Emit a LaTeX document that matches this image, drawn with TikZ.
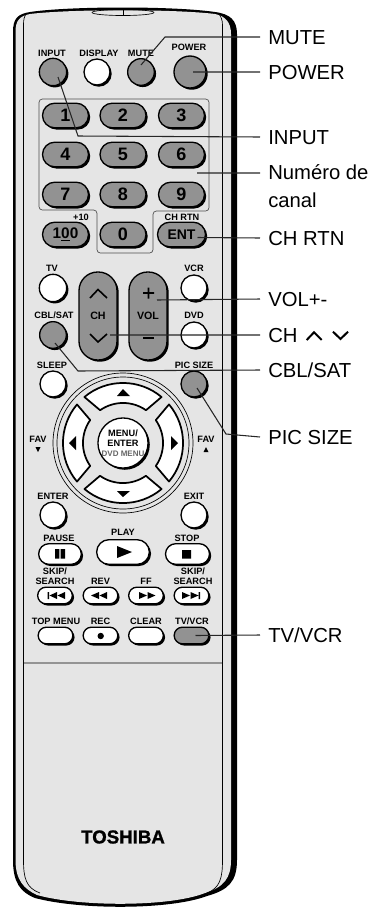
\documentclass[tikz,border=0pt]{standalone}
\usepackage{fontspec}
\setmainfont{Liberation Sans}
\usepackage{xcolor}
\usetikzlibrary{shapes.misc,shadows}
\definecolor{bodygray}{HTML}{E5E5E5}
\definecolor{keygray}{HTML}{929292}
\tikzset{
	key/.style={draw=black,line width=1pt,inner sep=0pt,general shadow={shadow xshift=1.3pt,shadow yshift=-1.3pt,fill=black}},
	graykey/.style={key,fill=keygray},
	whitekey/.style={key,fill=white},
	numkey/.style={graykey,rounded rectangle,minimum width=34.5pt,minimum height=18.5pt,font=\bfseries\fontsize{13.5}{14}\selectfont},
	longkey/.style={graykey,rectangle,rounded corners=14pt,minimum width=28.5pt,minimum height=66pt,font=\bfseries\fontsize{8}{9}\selectfont},
	roundkey/.style={circle,minimum size=#1},
	pillkey/.style={rounded rectangle,minimum height=12.5pt,minimum width=26pt},
	keylabel/.style={inner sep=0pt,align=center,font=\bfseries\fontsize{6.9}{7.6}\selectfont},
	calltext/.style={anchor=west,inner ysep=0pt,inner xsep=6pt,font=\fontsize{15.2}{21}\selectfont},
	callout/.style={calltext,text height=10.9pt,text depth=0pt},
	leader/.style={draw=black!85,line width=0.8pt},
	sector/.style={draw=black,fill=white,line width=1.3pt,line join=round},
}
\begin{document}
\begin{tikzpicture}[x=0.75pt,y=-0.75pt]
\useasboundingbox (0,0) rectangle (381,908);
% case
\fill[black] (13,32) .. controls (13,18) and (18,14) .. (30,12) .. controls (70,6) and (175,6) .. (215,12)
	.. controls (230,14) and (237,20) .. (237,34) -- (237,860) .. controls (237,882) and (228,890) .. (207,896)
	.. controls (170,910) and (80,910) .. (35,898) .. controls (20,892) and (13,882) .. (13,860) -- cycle;
\fill[bodygray] (15.5,32) .. controls (15.5,20) and (20,16) .. (30,14) .. controls (70,9) and (175,9) .. (215,14)
	.. controls (225,16) and (231,22) .. (231,34) -- (231,860) .. controls (231,878) and (224,887) .. (205,893)
	.. controls (170,907) and (80,907) .. (37,895) .. controls (24,889) and (15.5,880) .. (15.5,860) -- cycle;
\draw[line width=0.5pt] (27,13) .. controls (24,16) and (23.5,20) .. (23.5,25) -- (23.5,860)
	.. controls (23.5,878) and (26,888) .. (40,893)
	(218,13) .. controls (221,16) and (222.5,20) .. (222.5,25) -- (222.5,860)
	.. controls (222.5,878) and (220,888) .. (207,893)
	(23.5,663) -- (222.5,663);
\draw[line width=0.5pt] (123,12.5) ellipse [x radius=31,y radius=3];
\draw[line width=0.6pt] (123,8) -- (123,15);
% number panel
\draw[black!70,line width=0.5pt,rounded corners=2.5pt] (39,99) -- (209,99) -- (209,211) -- (153,211)
	-- (153,253) -- (97,253) -- (97,210) -- (39,210) -- cycle;

% top row
\node[keylabel] (inputlabel) at (52,53) {INPUT};
\node[keylabel] (displaylabel) at (99,53) {DISPLAY};
\node[keylabel] (mutelabel) at (141,53) {MUTE};
\node[keylabel] (powerlabel) at (189,47) {POWER};
\node[graykey,roundkey=20.5pt] (input) at (53,72) {};
\node[whitekey,roundkey=19.5pt] (display) at (97,72) {};
\node[graykey,roundkey=20pt] (mute) at (141,72) {};
\node[graykey,roundkey=24pt] (power) at (190,72) {};

% numbers
\node[numkey] (n1) at (65.5,115.5) {1};
\node[numkey] (n2) at (123,115.5) {2};
\node[numkey] (n3) at (181.5,115.5) {3};
\node[numkey] (n4) at (65.5,154.5) {4};
\node[numkey] (n5) at (123,154.5) {5};
\node[numkey] (n6) at (181.5,154.5) {6};
\node[numkey] (n7) at (65.5,194.5) {7};
\node[numkey] (n8) at (123,194.5) {8};
\node[numkey] (n9) at (181.5,194.5) {9};
\node[numkey,font=\bfseries\fontsize{11.5}{12}\selectfont] (n100) at (65.5,234.5) {1\underline{0}0};
\node[numkey] (n0) at (123,234.5) {0};
\node[numkey,minimum width=36pt,font=\bfseries\fontsize{10.5}{11}\selectfont] (ent) at (181.5,234.5) {ENT};
\node[keylabel] (pluslabel) at (81,217) {+10};
\node[keylabel] (chrtnlabel) at (182,217) {CH RTN};

% channel and volume
\node[keylabel] (tvlabel) at (52,268) {TV};
\node[keylabel] (vcrlabel) at (194,268) {VCR};
\node[keylabel] (cbllabel) at (54,315) {CBL/SAT};
\node[keylabel] (dvdlabel) at (194,315) {DVD};
\node[keylabel] (sleeplabel) at (52,365) {SLEEP};
\node[keylabel] (piclabel) at (194,365) {PIC SIZE};
\node[whitekey,roundkey=20.5pt] (tv) at (53,288) {};
\node[whitekey,roundkey=19.5pt] (vcr) at (194,288) {};
\node[graykey,roundkey=20pt] (cbl) at (53,335) {};
\node[whitekey,roundkey=19.5pt] (dvd) at (194,335) {};
\node[whitekey,roundkey=19.5pt] (sleep) at (53,384) {};
\node[graykey,roundkey=19.5pt] (pic) at (194,384) {};
\node[longkey] (ch) at (98,316) {CH};
\node[longkey] (vol) at (148,316) {VOL};
\draw[line width=1.2pt]
	(90,298) -- (98,289.5) -- (107,298)
	(90,334) -- (98,342) -- (107,334)
	(143,293) -- (154,293)
	(148.5,287.5) -- (148.5,298.5);
\draw[line width=1.8pt] (143,338) -- (154,338);

% navigation ring
\draw[line width=0.5pt] (123,443) circle [radius=70] (123,443) circle [radius=66];
\draw[sector] (84.4,397) arc [start angle=230,end angle=310,radius=60] -- (146,410.2) arc [start angle=305,end angle=235,radius=40] -- cycle;
\draw[sector] (169,404.4) arc [start angle=-40,end angle=40,radius=60] -- (155.8,466) arc [start angle=35,end angle=-35,radius=40] -- cycle;
\draw[sector] (161.6,489) arc [start angle=50,end angle=130,radius=60] -- (100,475.8) arc [start angle=125,end angle=55,radius=40] -- cycle;
\draw[sector] (77,481.6) arc [start angle=140,end angle=220,radius=60] -- (90.2,420) arc [start angle=215,end angle=145,radius=40] -- cycle;
\node[whitekey,roundkey=37.5pt,keylabel,inner sep=0pt] (menu) at (123,443) {MENU/\\ENTER\\[-0.5pt]{\color{black!60}\fontsize{6}{7}\selectfont DVD MENU}};
\fill
	(117,396) -- (123,389) -- (130,396) -- cycle
	(117,491) -- (123,497) -- (130,491) -- cycle
	(69,443) -- (76,436) -- (76,450) -- cycle
	(178,443) -- (171,436) -- (171,450) -- cycle
	(35.5,447) -- (40.5,447) -- (38,452) -- cycle
	(203.5,452) -- (208.5,452) -- (206,447) -- cycle;
\node[keylabel] (favleft) at (38,439) {FAV};
\node[keylabel] (favright) at (206,439) {FAV};

% lower keys
\node[keylabel] (enterlabel) at (53,496) {ENTER};
\node[keylabel] (exitlabel) at (194,496) {EXIT};
\node[whitekey,roundkey=19.5pt] (enter) at (53,515) {};
\node[whitekey,roundkey=19.5pt] (exit) at (194,515) {};
\node[keylabel] (pauselabel) at (59,538.5) {PAUSE};
\node[keylabel] (playlabel) at (123,532.5) {PLAY};
\node[keylabel] (stoplabel) at (187,538.5) {STOP};
\node[whitekey,pillkey,minimum width=32pt,minimum height=15.5pt] (pause) at (60,554) {};
\node[whitekey,pillkey,minimum width=39.5pt,minimum height=18.5pt] (play) at (123,552) {};
\node[whitekey,pillkey,minimum width=33pt,minimum height=15.5pt] (stop) at (187.5,554) {};
\node[keylabel] (skipleft) at (55,576) {SKIP/\\SEARCH};
\node[keylabel] (revlabel) at (100.5,581) {REV};
\node[keylabel] (fflabel) at (146,581) {FF};
\node[keylabel] (skipright) at (193,576) {SKIP/\\SEARCH};
\node[whitekey,pillkey] (prev) at (55,595.5) {};
\node[whitekey,pillkey] (rev) at (100.5,595.5) {};
\node[whitekey,pillkey] (ff) at (146,595.5) {};
\node[whitekey,pillkey] (next) at (191.5,595.5) {};
\node[keylabel] (toplabel) at (56,621) {TOP MENU};
\node[keylabel] (reclabel) at (100.5,621) {REC};
\node[keylabel] (clearlabel) at (146,621) {CLEAR};
\node[keylabel] (tvvcrlabel) at (192,621) {TV/VCR};
\node[whitekey,pillkey] (topmenu) at (55.5,635.5) {};
\node[whitekey,pillkey] (rec) at (100.5,635.5) {};
\node[whitekey,pillkey] (clear) at (146,635.5) {};
\node[graykey,pillkey] (tvvcr) at (191.5,635.5) {};
\fill
	(55,549) rectangle (59.3,558.5)
	(60.7,549) rectangle (65,558.5)
	(117,546) -- (132,552) -- (117,558) -- cycle
	(182,550) rectangle (191,558.5)
%	skip keys
	(47.5,592) rectangle (49,599)
	(57,592) -- (49.5,595.5) -- (57,599) -- cycle
	(65,592) -- (57.5,595.5) -- (65,599) -- cycle
	(99,592) -- (91,595.5) -- (99,599) -- cycle
	(107,592) -- (99.5,595.5) -- (107,599) -- cycle
	(139,592) -- (147,595.5) -- (139,599) -- cycle
	(147.5,592) -- (155.5,595.5) -- (147.5,599) -- cycle
	(182,592) -- (190,595.5) -- (182,599) -- cycle
	(190.5,592) -- (198.5,595.5) -- (190.5,599) -- cycle
	(198.5,592) rectangle (200,599)
	(100.7,636) circle [radius=3.2];
\node[inner sep=0pt,font=\bfseries\fontsize{14}{15}\selectfont\addfontfeatures{FakeBold=1.2}] (brand) at (123,837) {TOSHIBA};

% callouts
\node[callout] (mutetext) at (260,37) {MUTE};
\node[callout] (powertext) at (260,72) {POWER};
\node[callout] (inputtext) at (260,137) {INPUT};
\node[calltext,anchor=north west,align=left] (chantext) at (260,164) {Numéro de\\canal};
\node[callout] (rtntext) at (260,238) {CH RTN};
\node[callout] (voltext) at (260,299) {VOL+-};
\node[callout] (chtext) at (260,335) {CH};
\node[callout] (cbltext) at (260,370) {CBL/SAT};
\node[callout] (pictext) at (260,437) {PIC SIZE};
\node[callout] (tvvcrtext) at (260,635) {TV/VCR};
\draw[line width=1.5pt]
	(306.7,340) -- (314,332.3) -- (321.7,340)
	(333,331.7) -- (340.5,339) -- (348,331.7);
\coordinate (chanend) at (260,173);
\coordinate (chanstart) at (197,173);
\draw[leader]
	([shift={(0,-7)}]mute.center) -- (165,37) -- (mutetext.west)
	([shift={(3,0)}]power.center) -- (powertext.west)
	([shift={(5,5)}]input.center) -- (78,136) -- (inputtext.west)
	(chanstart) -- (chanend)
	([shift={(16,3)}]ent.center) -- (rtntext.west)
	([shift={(9,-16)}]vol.center) -- (voltext.west)
	([shift={(12,19)}]ch.center) -- (chtext.west)
	([shift={(2,8)}]cbl.center) -- (78,371) -- (cbltext.west)
	([shift={(3,4)}]pic.center) -- (226,434) -- (pictext.west)
	([shift={(4,0)}]tvvcr.center) -- (tvvcrtext.west);
\end{tikzpicture}
\end{document}
